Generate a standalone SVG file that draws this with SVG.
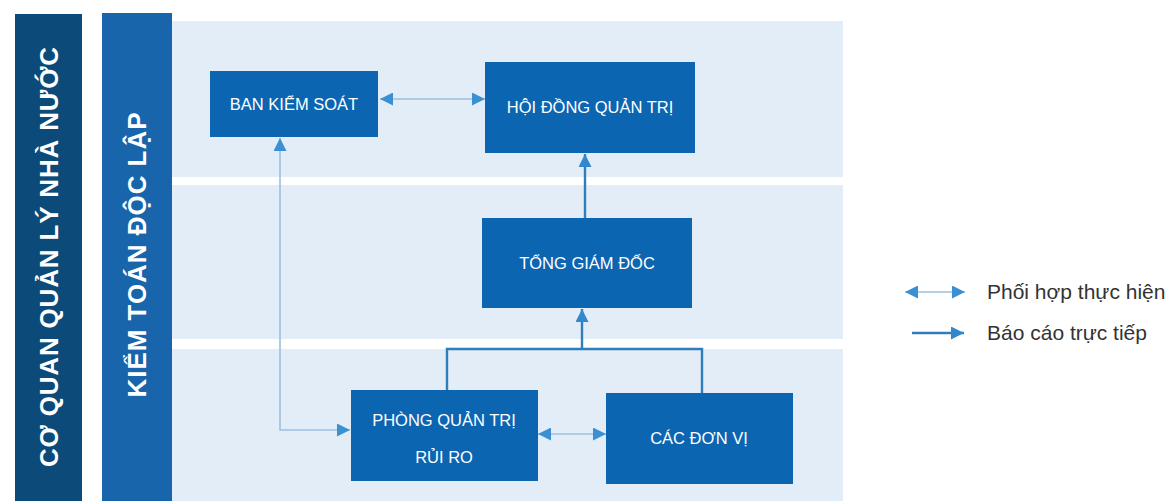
<svg xmlns="http://www.w3.org/2000/svg" width="1167" height="504" viewBox="0 0 1167 504">
<defs>
<style>
.bar1{fill:#0c4a79}
.bar2{fill:#1865ab}
.band{fill:#e2edf8}
.box{fill:#0b65b1}
.bt{font-family:"Liberation Sans",Arial,sans-serif;font-size:16.5px;fill:#ffffff;text-anchor:middle}
.vt{font-family:"Liberation Sans",Arial,sans-serif;font-size:26px;font-weight:bold;fill:#ffffff;text-anchor:middle}
.lg{font-family:"Liberation Sans",Arial,sans-serif;font-size:21px;fill:#333333}
.coop{fill:none;stroke:#9cbfdf;stroke-width:1.6}
.rep{fill:none;stroke:#2f7db9;stroke-width:2.4}
</style>
<marker id="ah" viewBox="0 0 12 12" markerUnits="userSpaceOnUse" markerWidth="13" markerHeight="13" refX="12" refY="6" orient="auto-start-reverse">
<path d="M0,0 L12,6 L0,12 z" fill="#3b8fd3"/>
</marker>
<marker id="ahr" viewBox="0 0 12 12" markerUnits="userSpaceOnUse" markerWidth="13" markerHeight="13" refX="12" refY="6" orient="auto">
<path d="M0,0 L12,6 L0,12 z" fill="#3288cc"/>
</marker>
</defs>
<rect width="1167" height="504" fill="#ffffff"/>

<g id="bar-co-quan">
<rect class="bar1" x="15" y="14" width="67" height="487"/>
<text class="vt" transform="translate(58,257) rotate(-90)" textLength="420" lengthAdjust="spacing">CƠ QUAN QUẢN LÝ NHÀ NƯỚC</text>
</g>
<g id="bar-kiem-toan">
<rect class="bar2" x="102" y="13" width="70" height="488"/>
<text class="vt" transform="translate(146,255) rotate(-90)" textLength="285" lengthAdjust="spacing">KIỂM TOÁN ĐỘC LẬP</text>
</g>

<g id="panel">
<rect class="band" x="172" y="21" width="671" height="156"/>
<rect class="band" x="172" y="185" width="671" height="154"/>
<rect class="band" x="172" y="349" width="671" height="152"/>
</g>

<g id="connectors">
<line class="coop" x1="380" y1="99" x2="485" y2="99" marker-start="url(#ah)" marker-end="url(#ah)"/>
<polyline class="coop" points="350,430 280,430 280,138" marker-start="url(#ah)" marker-end="url(#ah)"/>
<line class="coop" x1="538" y1="434" x2="606" y2="434" marker-start="url(#ah)" marker-end="url(#ah)"/>
<line class="rep" x1="585" y1="218" x2="585" y2="154" marker-end="url(#ahr)"/>
<polyline class="rep" points="447,390 447,349 702,349 702,393"/>
<line class="rep" x1="582" y1="349" x2="582" y2="309" marker-end="url(#ahr)"/>
</g>

<g id="node-ban-kiem-soat">
<rect class="box" x="210" y="71" width="168" height="66"/>
<text class="bt" x="294" y="110">BAN KIỂM SOÁT</text>
</g>
<g id="node-hoi-dong">
<rect class="box" x="485" y="62" width="210" height="91"/>
<text class="bt" x="590" y="113">HỘI ĐỒNG QUẢN TRỊ</text>
</g>
<g id="node-tong-giam-doc">
<rect class="box" x="482" y="218" width="210" height="90"/>
<text class="bt" x="587" y="269">TỔNG GIÁM ĐỐC</text>
</g>
<g id="node-phong-qtrr">
<rect class="box" x="351" y="390" width="187" height="91"/>
<text class="bt" x="444" y="426">PHÒNG QUẢN TRỊ</text>
<text class="bt" x="444" y="463">RỦI RO</text>
</g>
<g id="node-cac-don-vi">
<rect class="box" x="606" y="393" width="187" height="91"/>
<text class="bt" x="699" y="444">CÁC ĐƠN VỊ</text>
</g>

<g id="legend">
<line class="coop" x1="905" y1="292" x2="965" y2="292" marker-start="url(#ah)" marker-end="url(#ah)"/>
<text class="lg" x="987" y="299">Phối hợp thực hiện</text>
<line class="rep" x1="912" y1="333" x2="964" y2="333" marker-end="url(#ahr)"/>
<text class="lg" x="987" y="340">Báo cáo trực tiếp</text>
</g>
</svg>
